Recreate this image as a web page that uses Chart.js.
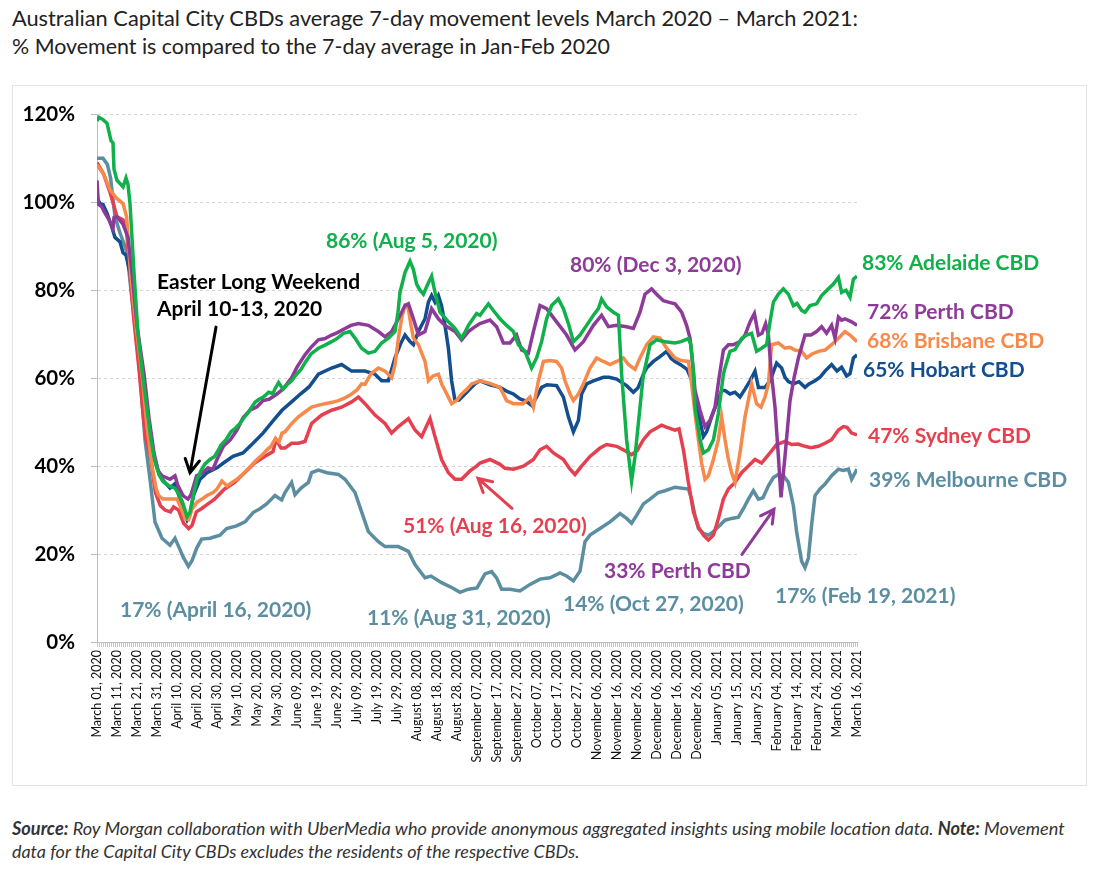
<!DOCTYPE html>
<html>
<head>
<meta charset="utf-8">
<script src="https://cdn.jsdelivr.net/npm/chart.js@4.4.0/dist/chart.umd.min.js"></script>
<style>
html,body{margin:0;padding:0;background:#fff;}
body{width:1099px;height:873px;position:relative;overflow:hidden;font-family:Lato,sans-serif;}
.t{position:absolute;left:12px;white-space:nowrap;color:#222;font-family:Lato,sans-serif;font-size:22px;line-height:1;transform-origin:0 50%;}
#t1{top:7px}
#t2{top:35px}
#box{position:absolute;left:12px;top:85px;width:1073px;height:699px;border:1px solid #e4e4e4;}
#c{position:absolute;left:0;top:0;}
.f{position:absolute;left:12px;white-space:nowrap;color:#333;font-style:italic;font-size:16px;line-height:1;font-family:Lato,sans-serif;}
#f1{top:819px}
#f2{top:843px}
</style>
</head>
<body>
<div class="t" id="t1">Australian Capital City CBDs average 7-day movement levels March 2020 – March 2021:</div>
<div class="t" id="t2">% Movement is compared to the 7-day average in Jan-Feb 2020</div>
<div id="box"><canvas id="c" width="1073" height="699" style="width:1073px;height:699px"></canvas></div>
<div class="f" id="f1"><b>Source:</b> Roy Morgan collaboration with UberMedia who provide anonymous aggregated insights using mobile location data. <b>Note:</b> Movement</div>
<div class="f" id="f2">data for the Capital City CBDs excludes the residents of the respective CBDs.</div>
<script>
// ---- Data (day index: 0 = March 01, 2020) ----
const seriesNames = ["Adelaide CBD", "Perth CBD", "Brisbane CBD", "Hobart CBD", "Sydney CBD", "Melbourne CBD"];

const tickLabels = ["March 01, 2020","March 11, 2020","March 21, 2020","March 31, 2020","April 10, 2020","April 20, 2020","April 30, 2020","May 10, 2020","May 20, 2020","May 30, 2020","June 09, 2020","June 19, 2020","June 29, 2020","July 09, 2020","July 19, 2020","July 29, 2020","August 08, 2020","August 18, 2020","August 28, 2020","September 07, 2020","September 17, 2020","September 27, 2020","October 07, 2020","October 17, 2020","October 27, 2020","November 06, 2020","November 16, 2020","November 26, 2020","December 06, 2020","December 16, 2020","December 26, 2020","January 05, 2021","January 15, 2021","January 25, 2021","February 04, 2021","February 14, 2021","February 24, 2021","March 06, 2021","March 16, 2021"];

const adelaideDays = [0,1,3,5,6,7,8,8.5,10,12,13,14.5,15.5,16.5,18.5,20.5,23,25,27,29,31,33,36,39,41,43,45,46.5,48,50,52,54,56.5,58.8,60.5,62,64.5,67,69,71.5,73.5,75.8,77.5,79,81,82.5,84,85.8,88,89,90.8,93,95,97.3,100,102,104,107,110.7,114,117.3,120,123.2,126.5,129,132.3,135.7,139,142.3,145.7,149,150.5,151.5,154,156.5,158.2,159.8,161.5,163.2,165.7,167.3,169,171.5,173.5,175.7,179,182.3,184,185.7,189.8,191.5,195.7,198,201.5,204.8,208.2,210.7,214,217.3,219.8,222.3,224.8,227.3,230.7,233.2,235.7,238.2,241.5,244.8,248.2,250.7,252.3,254.8,258.2,260.7,262.3,264.8,267.3,269,271.5,273.2,274,276.5,279.8,284,289,292,295.7,297,298.2,299,301.5,303.2,305.7,308.2,310.7,313.2,314,316.5,319,322.3,324.8,327.3,329.8,332.3,334.8,336.5,338.2,340.7,343.2,345.7,348.2,350,352.3,354,356.5,359.8,362.3,365.7,368.2,370.7,372.3,374.5,376.5,378.2,380];
const adelaideValues = [118.5,119.3,118.8,118,116,114,113.5,107.5,105,104,103.5,105.5,104,99.7,84,70,60,53,46,41,38,36.5,35.5,35,33.5,31.5,28.5,29.5,33,37,39,40.5,41.5,42.2,43.5,44.8,46,47.8,48.5,49.7,51,52.3,53.5,54.5,55.2,55.5,56,56.8,56.5,57.6,59,57.5,58.5,59.4,61,62,63.5,65.5,66.8,67.5,68.3,69,70.2,70.6,69.1,66.8,65.7,66.1,68,69.1,70.6,75,79.5,84,86.6,84.7,81.4,80,79.1,81.7,83.2,79.5,75,74,72.8,71.3,69.1,70.5,72,74.7,74.3,76.9,75.5,73.5,72,70.6,67.6,66.1,62.3,64.6,68.3,73.5,76.5,78,75.8,72.4,68.3,69.8,72,74.3,75.8,78,76.2,75,74.3,61,46,36.6,42.2,53.4,60.9,62.3,67.6,68.7,68.3,68,68.3,69,67.5,61.6,53.4,46,43,43.7,46,52,60.9,62.3,66.1,66.5,69,69.8,70.2,66.1,66.8,67.6,72.8,77.3,79.1,80.3,79.1,76.5,77,75.4,75,76.5,76.9,78.8,80.3,81.4,82.9,79.5,80,78.4,82.5,83.2];

const perthDays = [0,0.7,2.3,4,6,8,8.5,10,13,15.5,17.5,20,23.5,26,28.5,30.5,32.5,36.5,39,40.5,43,45.5,47,49.8,52.2,55.5,58,60,63.2,66.7,70,73,76.5,80,83,86,90,93,97.3,100,104,107,110.7,114,117.3,120,124,127,130.7,135.7,140.7,144,147.3,150.7,154,155.7,158.2,160.7,164,167.3,170.7,174,179,182.3,185.7,189,191.5,196.5,199.8,203.2,206.5,209.8,212.3,215.7,218.2,221.5,224.8,229.8,234.8,239,243.2,248.2,252.3,255.7,259.8,264.8,268.2,271.5,274,277.3,279.8,283.2,285.7,289,292.3,294.8,296.5,298.2,299,301.5,304,306.5,309,311,313.2,315.7,318,321.5,324,326.5,328.7,330.7,332.5,334.3,335.7,337,339,340.7,342,344,346.5,348.5,350.7,354,357,359.8,362.3,364.8,367.3,369,370.7,372.3,374,377.3,380];
const perthValues = [105,99.5,99,97.5,96,94,96.5,96.7,95,92,84,72,61,51,43,39,37.8,37,37.8,35.5,33.3,32.5,33.5,37.8,38.3,39.6,39.3,41.5,44.5,46,48.2,51,52.7,53.5,54.9,55.2,56.4,57.5,60.1,62.5,65.3,67,68.7,69,69.8,70.3,71.3,72,72.4,72,70.6,69.4,70.6,73.5,76.5,76.9,73.5,69.8,70.6,75.8,73.5,72,70.6,68.7,70.6,71.7,72.4,73.2,71.7,68,68,69.8,66.4,65.7,70.6,76.5,75.8,72.8,69.8,66.4,68.3,72,74.3,71.7,72,71.7,71.3,75,79.1,80.3,79.1,77.6,77.3,76.9,75,72,69.1,61.6,57.2,52.7,49,50.4,53.4,60,66.4,67.6,67.6,68.3,69.8,72.8,74.7,69.8,70.2,72.4,69.8,62,53.4,42.2,32.9,42.2,54.9,60,64.6,69.8,69.8,70.6,71.7,70.2,72,69.1,73.9,73.2,73.5,72.8,72];

const brisbaneDays = [0,3.3,6.7,10,13,14.8,16.7,19.5,22.5,25,27.5,29.5,30.8,33,37,40,41.5,44,45.8,47.5,50,52.5,55,58,60,62.5,65,67.5,70,72.5,75,77.5,80,82.5,85,87,89.2,91,92.5,94,97,100.7,104,107.3,110.5,114,117.5,120.7,124,127.3,130,132.3,134,137,140.7,144,147.3,149,150.7,152.5,154,155.7,157,158.2,160.7,162.5,164,165.7,168,170.7,172.5,174,177.3,180,182.3,185,187.3,191.5,196.5,201.5,204.8,208.2,213,216.5,218.2,220.7,223.2,226.5,229.8,232.3,234,236.5,238.2,240.7,243.2,246.5,249.8,253.2,256.5,259.8,263.2,265.7,269,271.5,274.8,278.2,281.5,284.8,289,292,295.7,297.3,299,300.7,302.3,304,305.7,308.2,310.7,312.3,314,315.7,317.3,319,321.5,324,327.3,329.8,332,334,335.7,337.3,340.7,344,346.5,349,352.3,354.8,357.5,360.7,364,367.3,370.7,374,376.5,380];
const brisbaneValues = [108.5,106.4,102.7,100.8,99.7,96.7,84,72,61,49,40,35,33.3,32.5,32.5,32.5,31,28,27.8,30.2,31.8,32.5,33.3,34,34.8,36.6,35.5,36.3,37,38,39.2,40.3,41.5,42.5,43.7,44.5,46.3,45.5,47.5,47.8,49.5,51.2,52.3,53.4,53.8,54.2,54.5,54.9,55.5,56.4,57.3,58.7,58.6,61,62.3,61.6,60.1,63,69.1,74,76.5,75.8,72,69.1,67.6,65.5,63.8,59.4,60.5,60.9,58.5,57.2,54.2,55,56.4,57.5,58.7,59.4,58.8,57.9,54.9,54.2,54.2,55.7,53.4,59.4,63.8,64,63.8,62.3,59.4,56.4,54.9,56.4,58.7,62.3,64.6,63.8,63.1,63.8,64.6,63.1,62,64.6,67.6,69.4,69.1,66.8,64.6,64,63.8,58.7,52,46,40.7,37,37.8,41.5,46,51.2,46,41.5,38.5,36.3,43,51.2,58.7,54.2,53.4,55.7,58.7,67.6,68,66.8,67,66.4,66.1,64.6,65.5,66.1,66.4,67.6,69.1,70.6,69.8,68.3];

const hobartDays = [0,1.5,3,5,7.3,9,11.5,13,14.5,17,20,23,25.5,28,30.5,32.5,36.5,39,41.5,43,45,46.5,48.2,51.5,55,60,63.2,68,73,78,83,88.2,92.5,97,102,106,110.7,117.3,122.3,127.3,134,139,142.3,145.7,149,152,154,156.5,158.2,160.7,164,165.7,167.3,169,170.7,172.3,174,175.7,177.3,179,181,184,189,191.5,196.5,201.5,205,208.2,211.5,214.5,217.3,219.8,222.3,225,229.8,233.2,235.7,238.2,240.7,242.3,244.8,248.2,253.2,256,259.8,264.8,268.2,270.5,273.2,274.8,278.2,281.5,284.8,287,289,292,295,298.2,300.7,303.2,304.8,307.3,309.8,312.3,314,316.5,319,321.5,324,326.5,329,330.7,334,336.5,339.8,342.3,344,345.7,348.2,351,354,356,359,361.5,364,367.3,370,372.3,374.8,376.5,378.2,380];
const hobartValues = [101,99.7,99.5,97.5,94.5,92,91,88.5,88,83,71,61,51,43,39,37,35,36,32.5,29.5,27.7,29,33.3,37,38.5,39.6,40.7,42.2,43,45.2,47.5,50.4,52.7,54.5,56.5,58,60.9,62.3,63.1,61.6,61.6,60.9,59.4,59.4,64.6,68,69.8,68.3,67.6,70.6,73.5,77.3,78.8,77.3,78.8,76.5,72,66.8,59.4,54.9,55,56.4,58.7,59.4,58.5,57.9,57,56.4,55.3,54.8,53.8,55.7,57.9,58.5,58.3,55.7,51.2,47.8,50.4,56.4,58.7,59.4,60.2,60.2,59.8,58.3,56.8,57.8,60.9,62.3,63.8,64.9,66.1,64.5,63.8,63,62,58.7,52,46.7,47.8,51.2,54.2,57.2,57.2,56.4,56.8,55.7,57.5,59.4,61.6,57.9,57.9,59.4,63.4,62.3,60.2,59.2,58.7,59.2,57.9,58.7,59.4,60.2,61.6,63.1,61.6,62.5,60.5,61,64.6,65.3];

const sydneyDays = [0,3.3,6.7,10,13,14.8,16,18.5,21,23,24.5,26.7,29.2,31.7,34,36.7,38.3,40.8,43.3,45.8,47.5,49.7,52.2,55.5,58.8,63.8,68.8,73.8,78.8,83.8,88,89.5,92,94,97.3,100.7,104,107.3,112.3,117.3,122.3,127.3,130.7,134,139,144,147.3,150.7,155.7,159,162.3,166.5,169,172.3,175.7,179,182.3,186.5,189.8,191.5,196.5,201.5,204,208.2,213.2,218.2,221.5,224.8,228.2,233.2,236.5,239,242.3,246.5,251.5,254.8,259.8,263.2,267.3,270,273.2,276.5,282.3,285,289,291,293.2,295.7,298.2,300.7,303.2,305.7,308.2,310.7,313.2,315.7,319,322.3,325.7,329,332.3,336.5,339.8,344,347.3,350.5,354,357,360.7,364,367.3,370.7,373.2,375,377.3,380];
const sydneyValues = [109,106.4,102,96.7,96,93.8,86,73,62,52,46,42.3,34,31,30,29.6,30.7,30,27,25.8,26.5,29.6,30.3,31.4,32.5,34.8,36.3,38.5,40.7,42.2,43.3,46,44.1,44.1,45.2,45.2,45.6,49.7,51.6,52.7,53.4,54.6,55.7,54.2,51.6,49.7,47.5,49,50.8,48.2,46.7,50.8,46.7,41.5,38.5,37,37,38.9,40,40.7,41.5,40.4,39.5,39.3,40,41.5,43.7,44.5,43,41.5,39.3,38.1,40,42.2,44.1,44.9,44.5,43.7,42.6,43.5,46,47.8,49.3,48.8,48.2,48.5,43.7,36.3,29.6,26.2,24.3,23.2,24.3,28.1,32.5,34.8,36.3,38.5,40,41.5,40.7,43,44.9,45.6,44.9,45,44.5,44.2,44.5,45.2,46,48.2,49,48.8,47.5,47.1];

const melbourneDays = [0,3,5.2,6.8,7.3,9,11.5,14,15,17,19.5,21.5,24,26.7,29,32.5,36.5,39,41.5,43,45.7,47.5,49.8,52.3,56.5,61.5,64.8,69.8,74,78.2,81.5,84.8,89,92.3,94,97.3,99,102,105.7,107.3,110.7,115,120.7,124,129,132.3,135.7,140.7,144,150.7,155.7,159,164,167,172.3,177.3,181.5,185.7,190,194,197.3,199.8,202.3,206.5,211.5,216.5,221.5,226.5,231.5,234.8,238.2,241.5,244,246.5,251.5,256.5,261.5,264.8,267.3,269.8,273.2,276.5,280.7,284,289,295.7,297.3,299,300.7,303.2,305.7,308,310.7,314,317.3,320.7,323.2,325.7,328.2,330.7,333,335.7,338.2,340.7,343.2,345.7,348.2,349.8,352.3,354,355.7,357.3,359,361.5,364,367.3,370.7,373,375.7,377.3,380];
const melbourneValues = [110,110,108.6,105.5,103.5,96.7,93,90,88.5,80,70,61,46,36.3,27.3,23.6,22,23.6,21,19.4,17.2,18.5,21.3,23.4,23.6,24.3,25.8,26.4,27.3,29.5,30.3,31.4,33.3,32.3,34,36.3,33.5,35,36.3,38.5,39.1,38.5,38.1,37,34,29.6,25.1,22.8,21.7,21.7,20.6,17.6,14.6,15,13.5,12.4,11.3,12,12.3,15.5,16,14.6,12,12,11.6,13.1,14.3,14.6,15.7,15,13.9,16.1,22.8,24.3,25.8,27.3,29.2,28.1,27,28.8,31.4,32.5,34,34.4,35.2,34.8,32.5,28.8,25.8,24.7,24.3,25,26.2,27.7,28.1,28.4,30.3,32.5,34.4,32.5,32.8,35.5,37.4,38.1,37.8,36.3,31,25.1,18.4,16.9,19.1,26.6,33.3,34.8,35.9,37.8,39.3,39,39.3,37,39.3];

const seriesColors = ["#10B04A", "#8E3A98", "#F7894A", "#134E8E", "#E5404F", "#5B8EA1"];

// ---- Fit title / footer widths ----
function fitWidth(id, target) {
  const el = document.getElementById(id);
  const w = el.getBoundingClientRect().width;
  const fs = parseFloat(getComputedStyle(el).fontSize);
  el.style.fontSize = (fs * target / w) + 'px';
}
function squeeze(id, target) {
  const el = document.getElementById(id);
  const w = el.getBoundingClientRect().width;
  el.style.transform = 'scaleX(' + (target / w) + ')';
}
squeeze('t1', 846);
squeeze('t2', 598);
fitWidth('f1', 1053);
fitWidth('f2', 568);

function pairs(days, vals) { return days.map((d, i) => ({x: d, y: vals[i]})); }

const datasets = [
  [adelaideDays, adelaideValues],
  [perthDays, perthValues],
  [brisbaneDays, brisbaneValues],
  [hobartDays, hobartValues],
  [sydneyDays, sydneyValues],
  [melbourneDays, melbourneValues]
].map((s, i) => ({
  label: seriesNames[i],
  data: pairs(s[0], s[1]),
  borderColor: seriesColors[i],
  backgroundColor: seriesColors[i],
  borderWidth: 3.5,
  pointRadius: 0,
  tension: 0,
  fill: false
}));

// annotation layout (anchor in day / percent units)
const notes = [
  {text: "Easter Long Weekend", d: 30, v: 81.7, color: "#000"},
  {text: "April 10-13, 2020", d: 30, v: 75.7, color: "#000"},
  {text: "86% (Aug 5, 2020)", d: 114.5, v: 91.1, color: seriesColors[0]},
  {text: "80% (Dec 3, 2020)", d: 236.5, v: 85.7, color: seriesColors[1]},
  {text: "83% " + seriesNames[0], d: 382.5, v: 86.2, color: seriesColors[0]},
  {text: "72% " + seriesNames[1], d: 385, v: 75.0, color: seriesColors[1]},
  {text: "68% " + seriesNames[2], d: 385, v: 68.5, color: seriesColors[2]},
  {text: "65% " + seriesNames[3], d: 383, v: 61.8, color: seriesColors[3]},
  {text: "47% " + seriesNames[4], d: 385.5, v: 46.8, color: seriesColors[4]},
  {text: "39% " + seriesNames[5], d: 386, v: 36.7, color: seriesColors[5]},
  {text: "51% (Aug 16, 2020)", d: 153, v: 26.4, color: seriesColors[4]},
  {text: "33% Perth CBD", d: 253.5, v: 16.1, color: seriesColors[1]},
  {text: "17% (April 16, 2020)", d: 11.5, v: 7.2, color: seriesColors[5]},
  {text: "11% (Aug 31, 2020)", d: 135, v: 5.4, color: seriesColors[5]},
  {text: "14% (Oct 27, 2020)", d: 233, v: 8.7, color: seriesColors[5]},
  {text: "17% (Feb 19, 2021)", d: 339, v: 10.3, color: seriesColors[5]}
];
const arrows = [
  {from: [59.5, 71.6], to: [46.5, 38.5], color: "#000"},
  {from: [207.5, 30.4], to: [190.5, 37.2], color: seriesColors[4]},
  {from: [322.5, 19.9], to: [338.5, 30.2], color: seriesColors[1]}
];

const annotPlugin = {
  id: 'annot',
  afterDatasetsDraw(chart) {
    const {ctx, scales: {x, y}} = chart;
    ctx.save();
    ctx.textBaseline = 'middle';
    ctx.textAlign = 'left';
    ctx.font = 'bold 21px Lato';
    notes.forEach(n => {
      ctx.fillStyle = n.color;
      ctx.fillText(n.text, x.getPixelForValue(n.d), y.getPixelForValue(n.v));
    });
    arrows.forEach(a => {
      const x1 = x.getPixelForValue(a.from[0]), y1 = y.getPixelForValue(a.from[1]);
      const x2 = x.getPixelForValue(a.to[0]), y2 = y.getPixelForValue(a.to[1]);
      const ang = Math.atan2(y2 - y1, x2 - x1);
      const L = 15, spread = 0.5;
      ctx.strokeStyle = a.color;
      ctx.lineWidth = 3;
      ctx.lineCap = 'round';
      ctx.beginPath();
      ctx.moveTo(x1, y1); ctx.lineTo(x2, y2);
      ctx.moveTo(x2 - L * Math.cos(ang - spread), y2 - L * Math.sin(ang - spread));
      ctx.lineTo(x2, y2);
      ctx.lineTo(x2 - L * Math.cos(ang + spread), y2 - L * Math.sin(ang + spread));
      ctx.stroke();
    });
    ctx.restore();
  }
};

new Chart(document.getElementById('c'), {
  type: 'line',
  data: {datasets},
  plugins: [annotPlugin],
  options: {
    responsive: false,
    animation: false,
    layout: {padding: {left: 0, top: 20, right: 229, bottom: 0}},
    plugins: {legend: {display: false}, tooltip: {enabled: false}},
    scales: {
      x: {
        type: 'linear',
        min: 0,
        max: 380,
        afterFit: s => { s.height = 143; },
        grid: {drawOnChartArea: false, drawTicks: true, tickLength: 5, color: '#c8c8c8', tickColor: '#c8c8c8'},
        border: {color: '#bdbdbd', width: 1},
        ticks: {
          stepSize: 1,
          maxTicksLimit: 1000,
          autoSkip: false,
          minRotation: 90,
          maxRotation: 90,
          padding: 3,
          color: '#111',
          font: {family: 'Lato', size: 12.5},
          callback: v => (v % 10 === 0 ? tickLabels[v / 10] : '')
        }
      },
      y: {
        min: 0,
        max: 120,
        afterFit: s => { s.width = 84; },
        grid: {color: '#d5d5d5', tickColor: '#bdbdbd', tickLength: 6},
        border: {color: '#bdbdbd', dash: [3, 3]},
        ticks: {
          stepSize: 20,
          padding: 16,
          color: '#000',
          font: {family: 'Lato', size: 20.5, weight: 'bold'},
          callback: v => v + '%'
        }
      }
    }
  }
});
</script>
</body>
</html>
